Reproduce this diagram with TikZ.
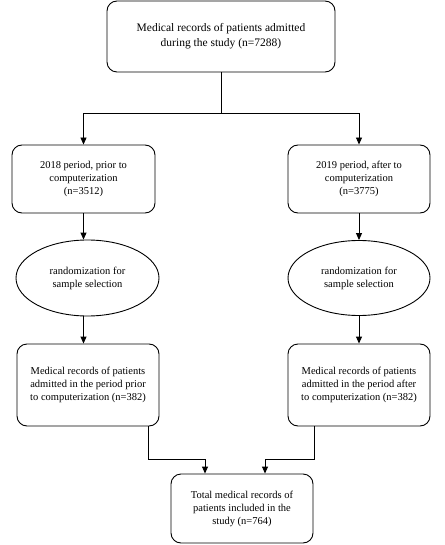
\documentclass[tikz,border=0pt]{standalone}
\usepackage{fontspec}
\setmainfont{Liberation Serif}
\usetikzlibrary{arrows.meta,shapes.geometric}
\begin{document}
\begin{tikzpicture}[x=1pt,y=-1pt,
  boxnode/.style={draw,rounded corners=10pt,line width=0.9pt,align=center,inner sep=2pt,
    font=\fontsize{10.5}{13}\selectfont},
  ovalnode/.style={draw,ellipse,line width=0.9pt,align=center,inner sep=0pt,
    font=\fontsize{10.5}{13}\selectfont},
  conn/.style={line width=0.9pt},
  arr/.style={conn,-{Triangle[length=7pt,width=6pt]}}]
\useasboundingbox (0,0) rectangle (444,545);
\node[boxnode,minimum width=228pt,minimum height=71pt,font=\fontsize{11.5}{15}\selectfont] (top) at (221,36.5)
  {Medical records of patients admitted\\during the study (n=7288)};
\node[boxnode,minimum width=143pt,minimum height=68pt] (l2) at (83.5,179)
  {2018 period, prior to\\computerization\\(n=3512)};
\node[boxnode,minimum width=142pt,minimum height=68pt] (r2) at (359,179)
  {2019 period, after to\\computerization\\(n=3775)};
\node[ovalnode,minimum width=143pt,minimum height=76pt] (le) at (87.5,278)
  {randomization for\\sample selection};
\node[ovalnode,minimum width=142pt,minimum height=75pt] (re) at (359,278)
  {randomization for\\sample selection};
\node[boxnode,minimum width=142pt,minimum height=82pt] (l3) at (88,385)
  {Medical records of patients\\admitted in the period prior\\to computerization (n=382)};
\node[boxnode,minimum width=142pt,minimum height=82pt] (r3) at (359,385)
  {Medical records of patients\\admitted in the period after\\to computerization (n=382)};
\node[boxnode,minimum width=142pt,minimum height=69pt] (b4) at (242,508.5)
  {Total medical records of\\patients included in the\\study (n=764)};
\coordinate (split) at ([yshift=-41pt]top.south);
\draw[conn] (top.south) -- (split);
\draw[arr] (split) -| (l2.north);
\draw[arr] (split) -| (r2.north);
\draw[arr] (l2.south) -- (l2.south |- le.north);
\draw[arr] (r2.south) -- (re.north);
\draw[arr] (l2.south |- le.south) -- (l2.south |- l3.north);
\draw[arr] (re.south) -- (r3.north);
\draw[arr] ([xshift=-11pt]l3.south east) -- ++(0,33) -| ([xshift=-37pt]b4.north);
\draw[arr] ([xshift=27pt]r3.south west) -- ++(0,33) -| ([xshift=23pt]b4.north);
\end{tikzpicture}
\end{document}
